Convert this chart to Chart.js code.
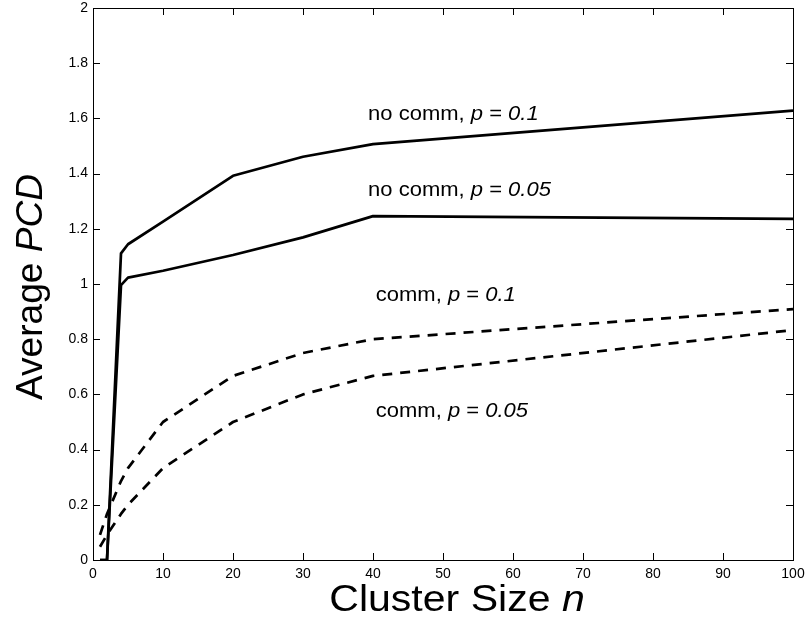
<!DOCTYPE html>
<html>
<head>
<meta charset="utf-8">
<script src="https://cdn.jsdelivr.net/npm/chart.js@4"></script>
<style>
html,body{margin:0;padding:0;background:#fff;}
#wrap{width:807px;height:620px;position:relative;}
</style>
</head>
<body>
<div id="wrap"><canvas id="c" width="807" height="620"></canvas></div>
<script>
const clusterSizes = [1, 2, 4, 5, 10, 20, 30, 40, 100];
const noCommP10  = [0, 0, 1.111, 1.144, 1.226, 1.392, 1.461, 1.507, 1.628];
const noCommP05  = [0, 0, 0.996, 1.023, 1.048, 1.105, 1.169, 1.246, 1.236];
const commP10    = [0.091, 0.167, 0.286, 0.333, 0.500, 0.667, 0.750, 0.800, 0.909];
const commP05    = [0.048, 0.091, 0.167, 0.200, 0.333, 0.500, 0.600, 0.667, 0.833];
const xTickValues = [0,10,20,30,40,50,60,70,80,90,100];
const yTickLabels = ['0','0.2','0.4','0.6','0.8','1','1.2','1.4','1.6','1.8','2'];
const annotations = [
  {x: 39.3, y: 1.615, plain: 'no comm, ', it: 'p', rest: ' = ', it2: '0.1'},
  {x: 39.3, y: 1.338, plain: 'no comm, ', it: 'p', rest: ' = ', it2: '0.05'},
  {x: 40.4, y: 0.960, plain: 'comm, ', it: 'p', rest: ' = ', it2: '0.1'},
  {x: 40.4, y: 0.537, plain: 'comm, ', it: 'p', rest: ' = ', it2: '0.05'}
];

function pts(ys){ return clusterSizes.map((x,i)=>({x:x,y:ys[i]})); }

const FONT = '"Liberation Sans", Arial, Helvetica, sans-serif';

function drawMixed(ctx, parts, x, y, size, stretch){
  ctx.save();
  ctx.translate(x, y);
  ctx.scale(stretch, 1);
  let px = 0;
  parts.forEach(p=>{
    ctx.font = p[1] + size + 'px ' + FONT;
    ctx.fillText(p[0], px, 0);
    px += ctx.measureText(p[0]).width;
  });
  ctx.restore();
  return px * stretch;
}
function mixedWidth(ctx, parts, size, stretch){
  let w = 0;
  parts.forEach(p=>{ ctx.font = p[1] + size + 'px ' + FONT; w += ctx.measureText(p[0]).width; });
  return w * stretch;
}

const decor = {
  id: 'decor',
  afterDraw(chart){
    const ctx = chart.ctx, a = chart.chartArea;
    const xs = chart.scales.x, ys = chart.scales.y;
    ctx.save();
    ctx.strokeStyle = '#000';
    ctx.lineWidth = 1;
    ctx.strokeRect(Math.round(a.left)+0.5, Math.round(a.top)+0.5, Math.round(a.right-a.left), Math.round(a.bottom-a.top));
    const tl = 7;
    ctx.beginPath();
    xs.ticks.forEach(t=>{
      const px = Math.round(xs.getPixelForValue(t.value))+0.5;
      ctx.moveTo(px, a.bottom); ctx.lineTo(px, a.bottom-tl);
      ctx.moveTo(px, a.top); ctx.lineTo(px, a.top+tl);
    });
    ys.ticks.forEach(t=>{
      const py = Math.round(ys.getPixelForValue(t.value))+0.5;
      ctx.moveTo(a.left, py); ctx.lineTo(a.left+tl, py);
      ctx.moveTo(a.right, py); ctx.lineTo(a.right-tl, py);
    });
    ctx.stroke();

    ctx.fillStyle = '#000';
    ctx.textBaseline = 'middle';
    ctx.textAlign = 'left';
    annotations.forEach(an=>{
      const px = xs.getPixelForValue(an.x), py = ys.getPixelForValue(an.y);
      drawMixed(ctx, [[an.plain,''],[an.it,'italic '],[an.rest,''],[an.it2,'italic ']], px, py, 20, 1.1);
    });

    const tfs = 36, st = 1.14;
    ctx.textBaseline = 'alphabetic';
    const xParts = [['Cluster Size ',''],['n','italic ']];
    const xw = mixedWidth(ctx, xParts, tfs, st);
    drawMixed(ctx, xParts, 457 - xw/2, 611, tfs, st);

    ctx.save();
    const cy = 287;
    ctx.translate(42, cy);
    ctx.rotate(-Math.PI/2);
    const yParts = [['Average ',''],['PCD','italic ']];
    const yw = mixedWidth(ctx, yParts, tfs, 1.03);
    drawMixed(ctx, yParts, -yw/2, 0, tfs, 1.03);
    ctx.restore();

    ctx.restore();
  }
};

const solid = {borderColor:'#000', borderWidth:2.7, pointRadius:0, fill:false, tension:0, borderJoinStyle:'round', borderCapStyle:'butt'};
const dashed = Object.assign({}, solid, {borderDash:[10,8]});

new Chart(document.getElementById('c'), {
  type: 'line',
  data: {
    datasets: [
      Object.assign({label:'no comm, p = 0.1', data: pts(noCommP10)}, solid),
      Object.assign({label:'no comm, p = 0.05', data: pts(noCommP05)}, solid),
      Object.assign({label:'comm, p = 0.1', data: pts(commP10)}, dashed),
      Object.assign({label:'comm, p = 0.05', data: pts(commP05)}, dashed)
    ]
  },
  options: {
    responsive: false,
    animation: false,
    devicePixelRatio: 1,
    layout: {autoPadding: false, padding: {top: 8, right: 14, left: 0, bottom: 0}},
    plugins: {legend:{display:false}, tooltip:{enabled:false}},
    scales: {
      x: {
        type: 'linear', min: 0, max: 100,
        afterBuildTicks(scale){ scale.ticks = xTickValues.map(v=>({value:v})); },
        afterFit(scale){ scale.height = 60; scale.paddingLeft = 0; scale.paddingRight = 0; },
        grid: {display:false, drawTicks:false},
        border: {display:false},
        ticks: {color:'#000', font:{family:FONT, size:14}, padding:6, maxRotation:0, autoSkip:false,
                callback:(v)=>String(v)}
      },
      y: {
        type: 'linear', min: 0, max: 2,
        afterBuildTicks(scale){ scale.ticks = yTickLabels.map(l=>({value:parseFloat(l)})); },
        afterFit(scale){ scale.width = 93; scale.paddingTop = 0; scale.paddingBottom = 0; },
        grid: {display:false, drawTicks:false},
        border: {display:false},
        ticks: {color:'#000', font:{family:FONT, size:14}, padding:5, autoSkip:false,
                callback:(v,i)=>yTickLabels[i]}
      }
    }
  },
  plugins: [decor]
});
</script>
</body>
</html>
